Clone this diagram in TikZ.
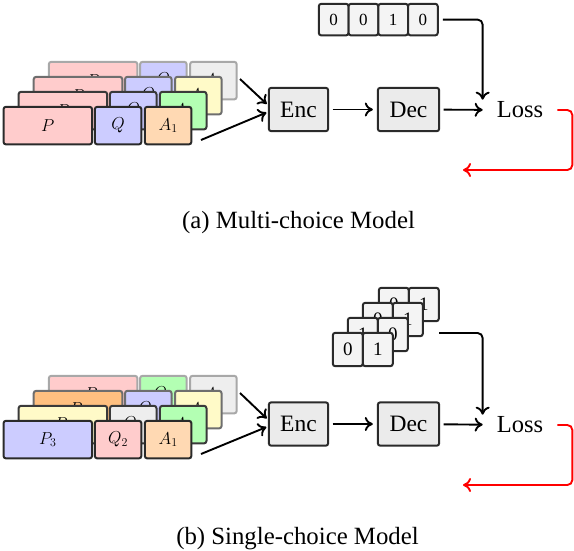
\documentclass[tikz,border=0pt]{standalone}
\usepackage{fontspec}
\setmainfont{Liberation Serif}
\usetikzlibrary{arrows.meta}
\definecolor{cpink}{HTML}{FFCCCC}
\definecolor{clav}{HTML}{CCCCFF}
\definecolor{cpeach}{HTML}{FFD9B3}
\definecolor{cgreen}{HTML}{B3FFB3}
\definecolor{cyellow}{HTML}{FFFAC8}
\definecolor{cgray}{HTML}{EEEEEE}
\definecolor{corange}{HTML}{FFC080}
\definecolor{cbox}{HTML}{EBEBEB}
\definecolor{cbin}{HTML}{F4F4F4}
\definecolor{edge1}{HTML}{2A2A2A}
\definecolor{edge2}{HTML}{3A3A3A}
\definecolor{edge3}{HTML}{6E6E6E}
\definecolor{edge4}{HTML}{A8A8A8}
\definecolor{cred}{HTML}{FF0000}
\tikzset{
  seg/.style={draw, rounded corners=2.5pt, line width=2pt, minimum height=37.6pt,
    inner sep=0pt, anchor=north west, font=\fontsize{18}{20}\selectfont},
  segP/.style={seg, minimum width=88.6pt},
  segS/.style={seg, minimum width=46.6pt},
  binbox/.style={draw=edge1, fill=cbin, rounded corners=2.5pt, line width=2pt,
    inner sep=0pt, anchor=north west},
  bintop/.style={binbox, minimum width=29.7pt, minimum height=31.6pt, font=\fontsize{17}{19}\selectfont},
  binbot/.style={binbox, minimum width=30pt, minimum height=33.4pt, font=\fontsize{19}{21}\selectfont},
  model/.style={draw=edge1, fill=cbox, rounded corners=2.5pt, line width=2pt,
    minimum height=43.4pt, inner sep=0pt, font=\fontsize{23.5}{26}\selectfont},
  losslbl/.style={inner xsep=14pt, inner ysep=2pt, font=\fontsize{24.5}{27}\selectfont},
  caption/.style={inner sep=0pt, font=\fontsize{24.8}{28}\selectfont},
  conn/.style={line width=1.9pt, -{Computer Modern Rightarrow[length=8pt,width=14pt]}},
  fbconn/.style={conn, draw=cred, rounded corners=5pt},
}
\begin{document}
\begin{tikzpicture}[x=1pt, y=-1pt]
\useasboundingbox (0,0) rectangle (574,550);

% ===================== (a) Multi-choice =====================
% layer 4 (back)
\node[segP, draw=edge4, fill=cpink] (a4p) at (47.8,60.8) {$P$};
\node[segS, draw=edge4, fill=clav]  (a4q) at (139.1,60.8) {$Q$};
\node[segS, draw=edge4, fill=cgray] (a4a) at (189.1,60.8) {$A_4$};
% layer 3
\node[segP, draw=edge3, fill=cpink]   (a3p) at (32.7,75.8) {$P$};
\node[segS, draw=edge3, fill=clav]    (a3q) at (124.0,75.8) {$Q$};
\node[segS, draw=edge3, fill=cyellow] (a3a) at (174.0,75.8) {$A_3$};
% layer 2
\node[segP, draw=edge2, fill=cpink]  (a2p) at (17.6,90.8) {$P$};
\node[segS, draw=edge2, fill=clav]   (a2q) at (108.9,90.8) {$Q$};
\node[segS, draw=edge2, fill=cgreen] (a2a) at (158.9,90.8) {$A_2$};
% layer 1 (front)
\node[segP, draw=edge1, fill=cpink]  (a1p) at (2.5,105.8) {$P$};
\node[segS, draw=edge1, fill=clav]   (a1q) at (93.8,105.8) {$Q$};
\node[segS, draw=edge1, fill=cpeach] (a1a) at (143.8,105.8) {$A_1$};

% label bits
\node[bintop] (ab1) at (317.8,2.8) {0};
\node[bintop] (ab2) at (347.55,2.8) {0};
\node[bintop] (ab3) at (377.3,2.8) {1};
\node[bintop] (ab4) at (407.05,2.8) {0};

\node[model, minimum width=59.4pt] (aenc) at (298.5,109.5) {Enc};
\node[model, minimum width=61.4pt] (adec) at (408.5,109.5) {Dec};
\node[losslbl] (aloss) at (520,110) {Loss};

\coordinate (ain1) at (240,79);
\coordinate (ain2) at (201,140);
\coordinate (afb) at (463,170);

\draw[conn, shorten >=1.5pt] (ain1) -- ([yshift=4.5pt]aenc.west);
\draw[conn, shorten >=1.5pt] (ain2) -- ([yshift=-2.5pt]aenc.west);
\draw[conn, shorten <=3.5pt, shorten >=4pt] (aenc) -- (adec);
\draw[conn, shorten <=3.5pt] (adec) -- (aloss);
\draw[conn, rounded corners=5pt, shorten <=4pt] (ab4.east) -| (aloss.north west);
\draw[fbconn] (aloss.east) -- ++(15,0) |- (afb);

\node[caption] (capa) at (298.5,222.5) {(a) Multi-choice Model};

% ===================== (b) Single-choice =====================
% layer 4 (back)
\node[segP, draw=edge4, fill=cpink]  (b4p) at (47.8,374.8) {$P_4$};
\node[segS, draw=edge4, fill=cgreen] (b4q) at (139.1,374.8) {$Q_4$};
\node[segS, draw=edge4, fill=cgray]  (b4a) at (189.1,374.8) {$A_4$};
% layer 3
\node[segP, draw=edge3, fill=corange] (b3p) at (32.7,389.8) {$P_3$};
\node[segS, draw=edge3, fill=clav]    (b3q) at (124.0,389.8) {$Q_3$};
\node[segS, draw=edge3, fill=cyellow] (b3a) at (174.0,389.8) {$A_3$};
% layer 2
\node[segP, draw=edge2, fill=cyellow] (b2p) at (17.6,404.8) {$P_2$};
\node[segS, draw=edge2, fill=cgray]   (b2q) at (108.9,404.8) {$Q_2$};
\node[segS, draw=edge2, fill=cgreen]  (b2a) at (158.9,404.8) {$A_2$};
% layer 1 (front)
\node[segP, draw=edge1, fill=clav]   (b1p) at (2.5,419.8) {$P_3$};
\node[segS, draw=edge1, fill=cpink]  (b1q) at (93.8,419.8) {$Q_2$};
\node[segS, draw=edge1, fill=cpeach] (b1a) at (143.8,419.8) {$A_1$};

% stacked binary labels
\node[binbot] (l4a) at (377.8,286.8) {0};
\node[binbot] (l4b) at (407.8,286.8) {1};
\node[binbot] (l3a) at (361.8,301.8) {0};
\node[binbot] (l3b) at (391.8,301.8) {1};
\node[binbot] (l2a) at (346.8,316.8) {1};
\node[binbot] (l2b) at (376.8,316.8) {0};
\node[binbot] (l1a) at (331.8,331.8) {0};
\node[binbot] (l1b) at (361.8,331.8) {1};

\node[model, minimum width=59.4pt] (benc) at (298.5,424) {Enc};
\node[model, minimum width=61.4pt] (bdec) at (408.5,424) {Dec};
\node[losslbl] (bloss) at (520,425) {Loss};

\coordinate (bin1) at (240,393);
\coordinate (bin2) at (201,454);
\coordinate (blab) at (439,333);
\coordinate (bfb) at (463,485);

\draw[conn, shorten >=1.5pt] (bin1) -- ([yshift=4.5pt]benc.west);
\draw[conn, shorten >=1.5pt] (bin2) -- ([yshift=-2.5pt]benc.west);
\draw[conn, shorten <=3.5pt, shorten >=4pt] (benc) -- (bdec);
\draw[conn, shorten <=3.5pt] (bdec) -- (bloss);
\draw[conn, rounded corners=5pt] (blab) -| (bloss.north west);
\draw[fbconn] (bloss.east) -- ++(15,0) |- (bfb);

\node[caption] (capb) at (297.5,539) {(b) Single-choice Model};
\end{tikzpicture}
\end{document}
